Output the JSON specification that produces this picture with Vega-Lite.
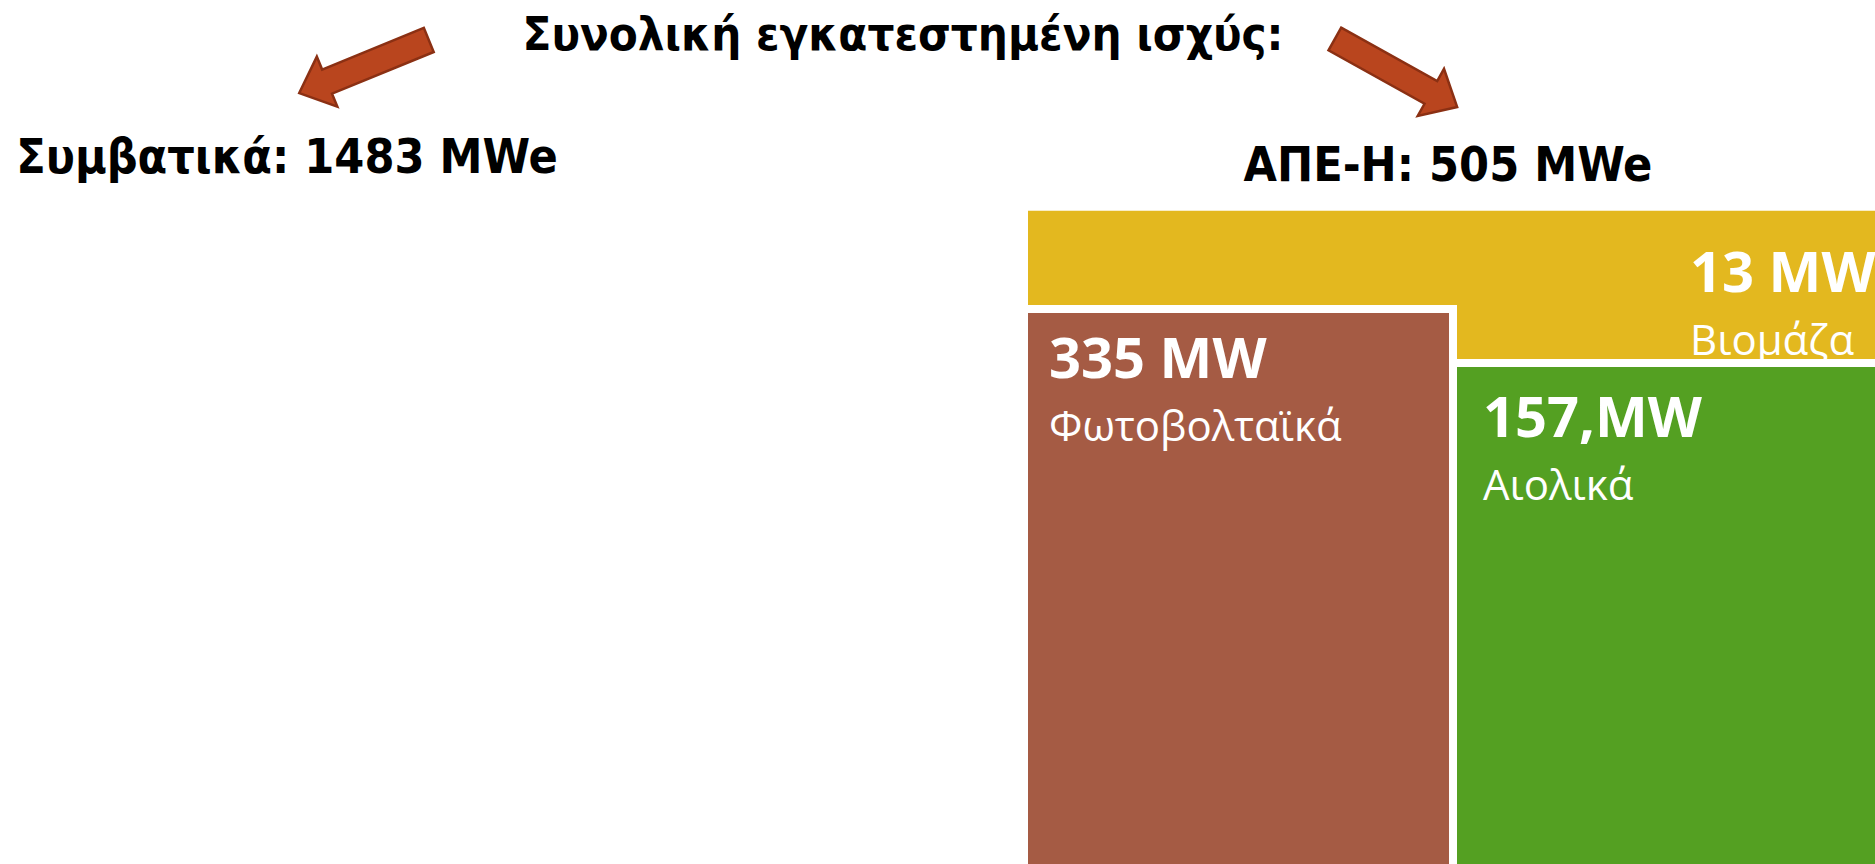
{
  "$schema": "https://vega.github.io/schema/vega-lite/v6.json",
  "width": 1875,
  "height": 864,
  "padding": 0,
  "autosize": {"type": "none"},
  "background": "white",
  "config": {"view": {"stroke": null}},
  "datasets": {
    "cells": [
      {"source": "Βιομάζα", "mw": 13, "label": "13 MW", "x0": 102.8, "x1": 190, "y0": 21.07, "y1": 36.2, "lx": 169.0, "ly": 29.2},
      {"source": "Φωτοβολταϊκά", "mw": 335, "label": "335 MW", "x0": 102.4, "x1": 145.3, "y0": 30.9, "y1": 90, "lx": 104.9, "ly": 37.8},
      {"source": "Αιολικά", "mw": 157, "label": "157,MW", "x0": 145.3, "x1": 190, "y0": 36.3, "y1": 90, "lx": 148.3, "ly": 43.7}
    ],
    "titles": [
      {"text": "Συνολική εγκατεστημένη ισχύς:", "x": 90.3, "y": 5.0, "size": "big"},
      {"text": "Συμβατικά: 1483 MWe", "x": 28.7, "y": 17.3, "size": "sub"},
      {"text": "ΑΠΕ-Η: 505 MWe", "x": 144.8, "y": 18.1, "size": "sub"}
    ],
    "arrows": [
      {"dir": "left", "x": 36.4, "y": 6.65},
      {"dir": "right", "x": 139.6, "y": 7.3}
    ]
  },
  "layer": [
    {
      "data": {"name": "cells"},
      "transform": [{"filter": "datum.source === 'Βιομάζα'"}],
      "mark": {"type": "rect", "clip": true, "color": "#E3B81F"},
      "encoding": {
        "x": {"field": "x0", "type": "quantitative", "scale": {"domain": [0, 187.5], "nice": false, "zero": false}, "axis": null},
        "x2": {"field": "x1"},
        "y": {"field": "y0", "type": "quantitative", "scale": {"domain": [0, 86.4], "nice": false, "zero": false, "reverse": true}, "axis": null},
        "y2": {"field": "y1"}
      }
    },
    {
      "data": {"name": "cells"},
      "transform": [{"filter": "datum.source !== 'Βιομάζα'"}],
      "mark": {"type": "rect", "clip": true, "stroke": "white", "strokeWidth": 8},
      "encoding": {
        "x": {"field": "x0", "type": "quantitative", "scale": {"domain": [0, 187.5], "nice": false, "zero": false}, "axis": null},
        "x2": {"field": "x1"},
        "y": {"field": "y0", "type": "quantitative", "scale": {"domain": [0, 86.4], "nice": false, "zero": false, "reverse": true}, "axis": null},
        "y2": {"field": "y1"},
        "color": {"field": "source", "type": "nominal", "scale": {"domain": ["Φωτοβολταϊκά", "Αιολικά"], "range": ["#A55B44", "#54A022"]}, "legend": null}
      }
    },
    {
      "data": {"name": "cells"},
      "mark": {"type": "text", "clip": true, "font": "Open Sans", "fontWeight": "bold", "fontSize": 56, "color": "white", "align": "left", "baseline": "alphabetic"},
      "encoding": {
        "x": {"field": "lx", "type": "quantitative", "scale": {"domain": [0, 187.5], "nice": false, "zero": false}, "axis": null},
        "y": {"field": "ly", "type": "quantitative", "scale": {"domain": [0, 86.4], "nice": false, "zero": false, "reverse": true}, "axis": null},
        "text": {"field": "label"}
      }
    },
    {
      "data": {"name": "cells"},
      "mark": {"type": "text", "clip": true, "font": "Open Sans", "fontWeight": "normal", "fontSize": 42, "color": "white", "align": "left", "baseline": "alphabetic", "dy": 63},
      "encoding": {
        "x": {"field": "lx", "type": "quantitative", "scale": {"domain": [0, 187.5], "nice": false, "zero": false}, "axis": null},
        "y": {"field": "ly", "type": "quantitative", "scale": {"domain": [0, 86.4], "nice": false, "zero": false, "reverse": true}, "axis": null},
        "text": {"field": "source"}
      }
    },
    {
      "data": {"name": "titles"},
      "transform": [{"filter": "datum.size === 'big'"}],
      "mark": {"type": "text", "font": "DejaVu Sans Condensed, DejaVu Sans", "fontWeight": "bold", "fontSize": 47, "color": "black", "align": "center", "baseline": "alphabetic"},
      "encoding": {
        "x": {"field": "x", "type": "quantitative", "scale": {"domain": [0, 187.5], "nice": false, "zero": false}, "axis": null},
        "y": {"field": "y", "type": "quantitative", "scale": {"domain": [0, 86.4], "nice": false, "zero": false, "reverse": true}, "axis": null},
        "text": {"field": "text"}
      }
    },
    {
      "data": {"name": "titles"},
      "transform": [{"filter": "datum.size === 'sub'"}],
      "mark": {"type": "text", "font": "DejaVu Sans Condensed, DejaVu Sans", "fontWeight": "bold", "fontSize": 48, "color": "black", "align": "center", "baseline": "alphabetic"},
      "encoding": {
        "x": {"field": "x", "type": "quantitative", "scale": {"domain": [0, 187.5], "nice": false, "zero": false}, "axis": null},
        "y": {"field": "y", "type": "quantitative", "scale": {"domain": [0, 86.4], "nice": false, "zero": false, "reverse": true}, "axis": null},
        "text": {"field": "text"}
      }
    },
    {
      "data": {"name": "arrows"},
      "transform": [{"filter": "datum.dir === 'left'"}],
      "mark": {"type": "point", "shape": "M -1 -0.186 L 0.57 -0.186 L 0.57 -0.386 L 1 0 L 0.57 0.386 L 0.57 0.186 L -1 0.186 Z", "size": 19600, "filled": true, "fill": "#B9451E", "stroke": "#8B3013", "strokeWidth": 2.5, "opacity": 1, "angle": 157.7},
      "encoding": {
        "x": {"field": "x", "type": "quantitative", "scale": {"domain": [0, 187.5], "nice": false, "zero": false}, "axis": null},
        "y": {"field": "y", "type": "quantitative", "scale": {"domain": [0, 86.4], "nice": false, "zero": false, "reverse": true}, "axis": null}
      }
    },
    {
      "data": {"name": "arrows"},
      "transform": [{"filter": "datum.dir === 'right'"}],
      "mark": {"type": "point", "shape": "M -1 -0.186 L 0.57 -0.186 L 0.57 -0.386 L 1 0 L 0.57 0.386 L 0.57 0.186 L -1 0.186 Z", "size": 19600, "filled": true, "fill": "#B9451E", "stroke": "#8B3013", "strokeWidth": 2.5, "opacity": 1, "angle": 29.1},
      "encoding": {
        "x": {"field": "x", "type": "quantitative", "scale": {"domain": [0, 187.5], "nice": false, "zero": false}, "axis": null},
        "y": {"field": "y", "type": "quantitative", "scale": {"domain": [0, 86.4], "nice": false, "zero": false, "reverse": true}, "axis": null}
      }
    }
  ]
}
